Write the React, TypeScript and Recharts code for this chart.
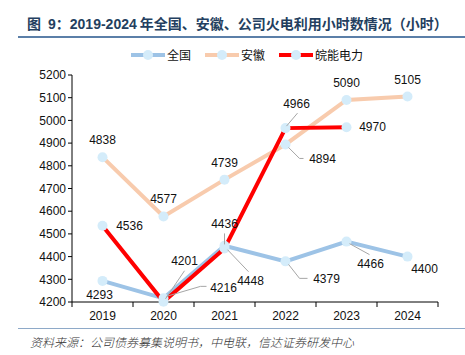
import React from 'react';
import { LineChart, Line, XAxis, YAxis, LabelList } from 'recharts';

const years = ['2019', '2020', '2021', '2022', '2023', '2024'];
const national = [4293, 4216, 4448, 4379, 4466, 4400];
const anhui = [4838, 4577, 4739, 4894, 5090, 5105];
const wanneng = [4536, 4201, 4436, 4966, 4970, null];
const yTicks = [4200, 4300, 4400, 4500, 4600, 4700, 4800, 4900, 5000, 5100, 5200];

const data = years.map((y, i) => ({ year: y, national: national[i], anhui: anhui[i], wanneng: wanneng[i] }));

// label placement per point: dx, dy of text centre, optional leader polyline
type Lab = { dx: number; dy: number; lead?: number[][] };
const natLabels: Lab[] = [
  { dx: -3, dy: 14 },
  { dx: 60, dy: -10, lead: [[3, -2], [37, -12], [43, -12]] },
  { dx: 26, dy: 35, lead: [[3, 4], [24, 26]] },
  { dx: 41, dy: 18, lead: [[3, 3], [14, 17], [22, 17]] },
  { dx: 24, dy: 22, lead: [[3, 2], [23, 13]] },
  { dx: 17, dy: 12 },
];
const anhuiLabels: Lab[] = [
  { dx: 0, dy: -17 },
  { dx: 0, dy: -17 },
  { dx: 0, dy: -17 },
  { dx: 37, dy: 15, lead: [[3, 3], [14, 14], [18, 14]] },
  { dx: 0, dy: -17 },
  { dx: 0, dy: -17 },
];
const wnLabels: Lab[] = [
  { dx: 27, dy: 0 },
  { dx: 21, dy: -41, lead: [[2, -3], [21, -31]] },
  { dx: 0, dy: -24, lead: [[0, -4], [0, -15]] },
  { dx: 11, dy: -24, lead: [[1, -2], [12, -15]] },
  { dx: 26, dy: 0 },
  { dx: 0, dy: 0 },
];

const makeLabel = (cfg: Lab[]) => (props: any) => {
  const { x, y, value, index } = props;
  if (value == null || x == null || y == null) return null;
  const c = cfg[index];
  return (
    <g>
      {c.lead && (
        <polyline
          points={c.lead.map((p) => `${x + p[0]},${y + p[1]}`).join(' ')}
          fill="none"
          stroke="#a6a6a6"
          strokeWidth={1}
        />
      )}
      <text x={x + c.dx} y={y + c.dy} textAnchor="middle" dominantBaseline="central" fontSize={12} fill="#111">
        {value}
      </text>
    </g>
  );
};

const XTick = (props: any) => {
  const { x, y, payload, index } = props;
  const off = payload.offset || 0;
  return (
    <g>
      <line x1={x - off} y1={y - 8} x2={x - off} y2={y - 3} stroke="#000" />
      {index === years.length - 1 && <line x1={x + off} y1={y - 8} x2={x + off} y2={y - 3} stroke="#000" />}
      <text x={x} y={y + 10} textAnchor="middle" fontSize={12} fill="#111">
        {payload.value}
      </text>
    </g>
  );
};

const dot = { r: 5, fill: '#d4ecfa', stroke: 'none' };

const LegendItem = ({ color, label }: { color: string; label: string }) => (
  <div style={{ display: 'flex', alignItems: 'center', marginRight: 14 }}>
    <svg width={34} height={12}>
      <line x1={0} y1={6} x2={34} y2={6} stroke={color} strokeWidth={4} />
      <circle cx={17} cy={6} r={5} fill="#d4ecfa" />
    </svg>
    <span style={{ marginLeft: 2 }}>{label}</span>
  </div>
);

export default function App() {
  return (
    <div style={{ position: 'absolute', left: 0, top: 0, width: 465, height: 355, background: '#fff', fontFamily: '"Liberation Sans", Arial, "Noto Sans CJK SC", sans-serif', overflow: 'hidden' }}>
      <div style={{ position: 'absolute', left: 0, top: 13, width: 465, fontSize: 14, fontWeight: 'bold', color: '#243f60', whiteSpace: 'nowrap' }}>
        <span style={{ marginLeft: 27, marginRight: 7 }}>图</span>
        <span>9：</span>
        <span style={{ marginRight: 3 }}>2019-2024</span>
        年全国、安徽、公司火电利用小时数情况（小时）
      </div>
      <div style={{ position: 'absolute', left: 18, top: 36, width: 447, height: 2, background: '#5b7fa8' }} />
      <div style={{ position: 'absolute', left: 131, top: 46, display: 'flex', fontSize: 12, color: '#111' }}>
        <LegendItem color="#9dc3e6" label="全国" />
        <LegendItem color="#f8cbad" label="安徽" />
        <LegendItem color="#ff0000" label="皖能电力" />
      </div>
      <div style={{ position: 'absolute', left: 0, top: 0 }}>
        <LineChart width={465} height={355} data={data} margin={{ top: 75, right: 27, left: 22, bottom: 23 }}>
          <XAxis dataKey="year" scale="band" tickLine={false} axisLine={{ stroke: '#000' }} tick={<XTick />} height={30} interval={0} />
          <YAxis
            domain={[4200, 5200]}
            ticks={yTicks}
            width={50}
            axisLine={{ stroke: '#000' }}
            tickLine={{ stroke: '#000' }}
            tickSize={4}
            tick={{ fontSize: 12, fill: '#111' }}
            interval={0}
          />
          <Line dataKey="national" stroke="#9dc3e6" strokeWidth={4} dot={dot} activeDot={false} isAnimationActive={false}>
            <LabelList dataKey="national" content={makeLabel(natLabels)} />
          </Line>
          <Line dataKey="anhui" stroke="#f8cbad" strokeWidth={4} dot={dot} activeDot={false} isAnimationActive={false}>
            <LabelList dataKey="anhui" content={makeLabel(anhuiLabels)} />
          </Line>
          <Line dataKey="wanneng" stroke="#ff0000" strokeWidth={4} dot={dot} activeDot={false} isAnimationActive={false}>
            <LabelList dataKey="wanneng" content={makeLabel(wnLabels)} />
          </Line>
        </LineChart>
      </div>
      <div style={{ position: 'absolute', left: 18, top: 328, width: 447, height: 1, background: '#8ea9c8' }} />
      <div style={{ position: 'absolute', left: 30, top: 333, fontSize: 12, fontStyle: 'italic', fontWeight: 300, color: '#333', whiteSpace: 'nowrap' }}>
        资料来源：公司债券募集说明书，中电联，信达证券研发中心
      </div>
    </div>
  );
}
